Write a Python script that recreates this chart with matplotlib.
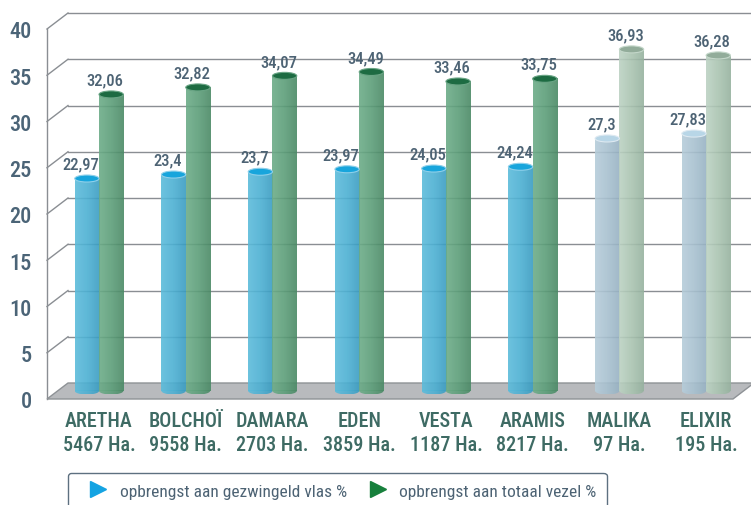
import numpy as np
import matplotlib
matplotlib.use('Agg')
import matplotlib.pyplot as plt
from matplotlib import font_manager
from matplotlib.patches import Ellipse, Polygon
from matplotlib.lines import Line2D
from matplotlib.colors import LinearSegmentedColormap

# data
categories = ['ARETHA', 'BOLCHOÏ', 'DAMARA', 'EDEN', 'VESTA', 'ARAMIS', 'MALIKA', 'ELIXIR']
hectares = ['5467 Ha.', '9558 Ha.', '2703 Ha.', '3859 Ha.', '1187 Ha.', '8217 Ha.', '97 Ha.', '195 Ha.']
gezwingeld = [22.97, 23.4, 23.7, 23.97, 24.05, 24.24, 27.3, 27.83]
totaal = [32.06, 32.82, 34.07, 34.49, 33.46, 33.75, 36.93, 36.28]
faded = [False, False, False, False, False, False, True, True]
yticks = [0, 5, 10, 15, 20, 25, 30, 35, 40]

# look for a narrow font, the original uses a condensed face
ttf = font_manager.fontManager.ttflist
names = {f.name for f in ttf}
narrow = None
for cand in ['Roboto Condensed', 'Liberation Sans Narrow', 'DejaVu Sans Condensed',
             'Noto Sans Condensed', 'Open Sans Condensed', 'Arial Narrow']:
    if cand in names:
        narrow = cand
        break
stretch = 'normal'
if narrow is None:
    cond = [f for f in ttf if str(f.stretch) in ('condensed', 'semi-condensed')
            and f.name in ('Noto Sans', 'DejaVu Sans', 'Open Sans', 'Roboto')]
    if cond:
        narrow = cond[0].name
        stretch = 'condensed'
if narrow is None:
    narrow = 'DejaVu Sans'
    k = 0.8
else:
    k = 1.0
plt.rcParams['font.family'] = [narrow, 'DejaVu Sans']
plt.rcParams['font.stretch'] = stretch
plt.rcParams['font.weight'] = 'medium'

fig = plt.figure(figsize=(7.51, 5.06), dpi=100)
ax = fig.add_axes([47 / 751, 106 / 506, 686 / 751, 370 / 506])
xmin, xmax = -0.6, 7.31
ax.set_xlim(xmin, xmax)
ax.set_ylim(0, 40)

# pixel -> data unit conversion
xpp = (xmax - xmin) / ax.bbox.width
ypp = 40 / ax.bbox.height
dxd, dyd = 21 * xpp, 16 * ypp      # depth of the box
mid = 8 * ypp                       # bars sit in the middle of the floor
eh = 7 * ypp                        # ellipse height of the cylinders
bw = 0.28

grid_col = '#8a8e93'
# back wall gridlines + diagonals from the front axis
for v in yticks[1:]:
    ax.plot([xmin + dxd, xmax + 0.5], [v + dyd, v + dyd], color=grid_col, lw=1, clip_on=False, zorder=1)
    ax.plot([xmin, xmin + dxd], [v, v + dyd], color=grid_col, lw=1, clip_on=False, zorder=1)
ax.plot([xmin, xmin], [0, 40], color=grid_col, lw=1, clip_on=False, zorder=1)

# floor
floor = Polygon([(xmin, 0), (xmax, 0), (xmax + dxd, dyd), (xmin + dxd, dyd)], closed=True,
                facecolor='#b8babd', edgecolor='#8e9296', lw=1, clip_on=False, zorder=2)
ax.add_patch(floor)

styles = {
    'blue': (['#5cbcdb', '#4cb0d3', '#3a9cc1'], '#18a5dc', '#8fd0ea'),
    'green': (['#6cac88', '#5c9e79', '#4a8965'], '#1d6b42', '#6aa585'),
    'blue_f': (['#b6cdda', '#a8c1d0', '#97b2c3'], '#b8d6e7', '#dde9f1'),
    'green_f': (['#bcd2c3', '#aac4b1', '#96b29f'], '#92ac9a', '#c4d7ca'),
}
grad = np.linspace(0, 1, 64).reshape(1, -1)


def cylinder(x, v, key):
    cols, top, edge = styles[key]
    cmap = LinearSegmentedColormap.from_list(key, cols)
    # the bar itself only serves as the outline, the shading is an image clipped to it
    rect = ax.bar(x, v, width=bw, bottom=mid, color='none', zorder=3)[0]
    ax.imshow(grad, cmap=cmap, extent=(x - bw / 2, x + bw / 2, mid, mid + v),
              aspect='auto', zorder=3.1, clip_path=rect, alpha=0.9)
    bot = Ellipse((x, mid), bw, eh, facecolor='none', edgecolor='none', zorder=3)
    ax.add_patch(bot)
    ax.imshow(grad, cmap=cmap, extent=(x - bw / 2, x + bw / 2, mid - eh / 2, mid),
              aspect='auto', zorder=3.1, clip_path=bot, alpha=0.9)
    ax.add_patch(Ellipse((x, mid + v), bw, eh, facecolor=top, edgecolor=edge, lw=0.8, zorder=4))
    ax.text(x - 6 * xpp, mid + v + 10 * ypp, f'{v:g}'.replace('.', ','), ha='center', va='baseline',
            fontsize=12 * k, color='#4d6374', zorder=5)


for i in range(len(categories)):
    cylinder(i - bw / 2, gezwingeld[i], 'blue_f' if faded[i] else 'blue')
    cylinder(i + bw / 2, totaal[i], 'green_f' if faded[i] else 'green')

ax.set_xlim(xmin, xmax)
ax.set_ylim(0, 40)
ax.set_xticks(range(len(categories)))
ax.set_xticklabels([f'{c}\n{h}' for c, h in zip(categories, hectares)], fontsize=14.5 * k,
                   color='#3e6b64', linespacing=1.3 / k)
ax.set_yticks(yticks)
ax.set_yticklabels([str(t) for t in yticks], fontsize=16 * k, color='#4b6477')
ax.tick_params(axis='x', length=0, pad=9)
ax.tick_params(axis='y', length=0, pad=11)
for s in ax.spines.values():
    s.set_visible(False)

handles = [Line2D([], [], marker='>', linestyle='none', color='#14a3e2', markersize=12),
           Line2D([], [], marker='>', linestyle='none', color='#17803c', markersize=12)]
leg = fig.legend(handles, ['opbrengst aan gezwingeld vlas %', 'opbrengst aan totaal vezel %'],
                 loc='upper left', bbox_to_anchor=(68 / 751, 1 - 474 / 506), ncol=2,
                 prop={'size': 12.5 * k, 'weight': 'normal'}, labelcolor='#4d6374',
                 frameon=True, fancybox=True,
                 handlelength=2.3 / k, handletextpad=0.1, columnspacing=0.6 / k, borderpad=0.6 / k,
                 borderaxespad=0)
frame = leg.get_frame()
frame.set_edgecolor('#5d7080')
frame.set_linewidth(1)
frame.set_alpha(1)

fig.savefig('out.png', dpi=100)
